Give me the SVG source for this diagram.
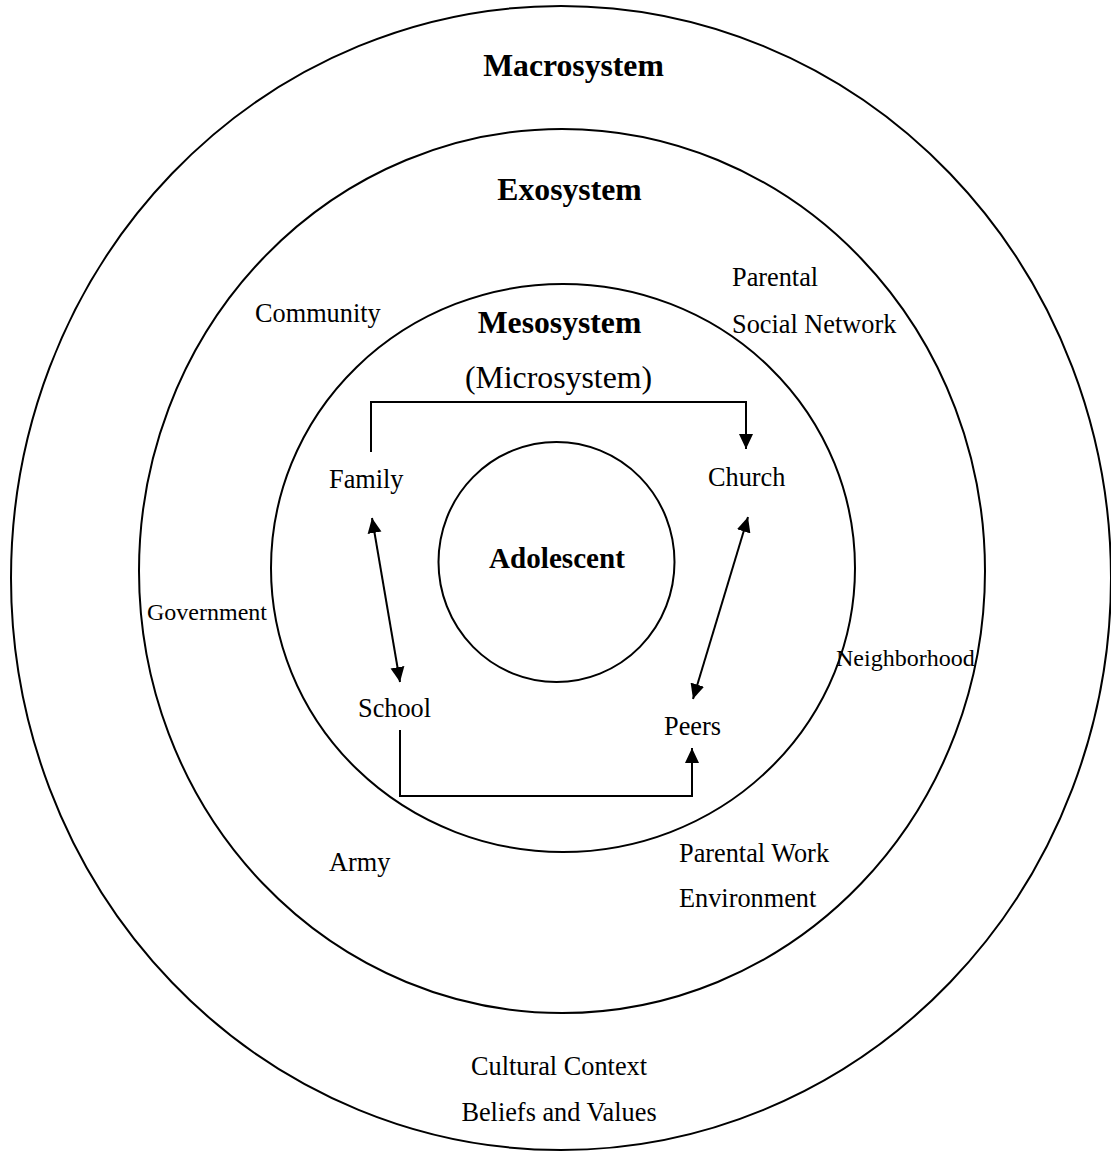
<svg xmlns="http://www.w3.org/2000/svg" width="1111" height="1152" viewBox="0 0 1111 1152">
<style>
.ring{fill:none;stroke:#000;stroke-width:2}
.con{fill:none;stroke:#000;stroke-width:2}
text{font-family:"Liberation Serif","Times New Roman",serif;fill:#000}
.t{font-size:31.7px;font-weight:bold;text-anchor:middle}
.l{font-size:26.3px}
.s{font-size:24px}
</style>
<defs>
<marker id="ah" markerUnits="userSpaceOnUse" markerWidth="16" markerHeight="16" viewBox="0 0 16 16" refX="15" refY="8" orient="auto-start-reverse">
<path d="M0,1 L15,8 L0,15 Z" fill="#000"/>
</marker>
</defs>
<rect width="1111" height="1152" fill="#fff"/>
<g id="macrosystem">
<ellipse class="ring" cx="561" cy="578" rx="550" ry="572"/>
<text class="t" x="573.5" y="76">Macrosystem</text>
<text class="l" x="559" y="1075" text-anchor="middle">Cultural Context</text>
<text class="l" x="559" y="1121" text-anchor="middle">Beliefs and Values</text>
</g>
<g id="exosystem">
<ellipse class="ring" cx="562" cy="571" rx="423" ry="442"/>
<text class="t" x="569.5" y="200">Exosystem</text>
</g>
<g id="community"><text class="l" x="255" y="322">Community</text></g>
<g id="parental-social-network">
<text class="l" x="732" y="286">Parental</text>
<text class="l" x="732" y="333">Social Network</text>
</g>
<g id="government"><text class="s" x="147" y="620">Government</text></g>
<g id="neighborhood"><text class="s" x="836" y="666">Neighborhood</text></g>
<g id="army"><text class="l" x="329" y="871">Army</text></g>
<g id="parental-work">
<text class="l" x="679" y="862">Parental Work</text>
<text class="l" x="679" y="907">Environment</text>
</g>
<g id="mesosystem">
<ellipse class="ring" cx="563" cy="568" rx="292" ry="284"/>
<text class="t" x="559.5" y="333">Mesosystem</text>
<text x="558.5" y="388" font-size="31.8" text-anchor="middle">(Microsystem)</text>
</g>
<g id="adolescent">
<ellipse class="ring" cx="556.5" cy="562" rx="118" ry="120"/>
<text x="557" y="568" font-size="29.1" font-weight="bold" text-anchor="middle">Adolescent</text>
</g>
<g id="family"><text class="l" x="329" y="488">Family</text></g>
<g id="church"><text class="l" x="708" y="486">Church</text></g>
<g id="school"><text class="l" x="358" y="717">School</text></g>
<g id="peers"><text class="l" x="664" y="735">Peers</text></g>
<g id="connectors">
<path class="con" d="M371,452 V402 H746 V449" marker-end="url(#ah)"/>
<path class="con" d="M400,730 V796 H692 V748" marker-end="url(#ah)"/>
<path class="con" d="M372,518 L400,682" marker-start="url(#ah)" marker-end="url(#ah)"/>
<path class="con" d="M748,517 L693,699" marker-start="url(#ah)" marker-end="url(#ah)"/>
</g>
</svg>
